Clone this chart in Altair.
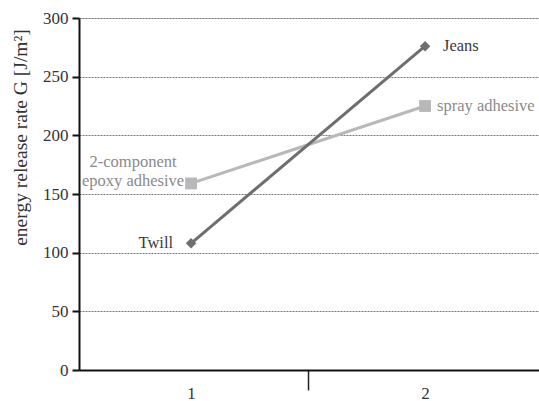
import altair as alt
import pandas as pd

# data
positions = [1, 2]
fabric_names = ["Twill", "Jeans"]
fabric_values = [108, 276]
adhesive_names = ["2-component epoxy adhesive", "spray adhesive"]
adhesive_values = [159, 225]
y_ticks = [0, 50, 100, 150, 200, 250, 300]
x_labels = ["1", "2"]

fabric = pd.DataFrame({"x": positions, "y": fabric_values, "name": fabric_names})
adhesive = pd.DataFrame({"x": positions, "y": adhesive_values, "name": adhesive_names})

xscale = alt.Scale(domain=[0.521, 2.487], nice=False, zero=False)
yscale = alt.Scale(domain=[0, 300], nice=False)

SERIF = "Liberation Serif"

xaxis = alt.Axis(
    values=[1, 1.5, 2],
    labelExpr="datum.value == 1.5 ? '' : datum.value == 1 ? '1' : '2'",
    tickColor={"expr": "datum.value == 1.5 ? '#222' : 'transparent'"},
    tickSize=20, tickWidth=1.5, labelPadding=-5,
    domainColor="#111", domainWidth=2,
    labelFont=SERIF, labelFontSize=17, labelColor="#333",
    grid=False, title=None, labelAngle=0,
)
yaxis = alt.Axis(
    values=y_ticks, tickSize=7, tickWidth=2, tickColor="#111",
    domainColor="#111", domainWidth=2,
    labelFont=SERIF, labelFontSize=17, labelColor="#333", labelPadding=4,
    grid=True, gridColor="#777", gridDash=[2, 1], gridWidth=1,
    title="energy release rate G [J/m²]",
    titleFont=SERIF, titleFontSize=19.5, titleFontWeight="normal", titleColor="#333",
    titleX=-59, titleY=119, titleAngle=-90, titleAlign="center", titleBaseline="middle",
)

X = alt.X("x:Q", scale=xscale)
Y = alt.Y("y:Q", scale=yscale)

adh_line = alt.Chart(adhesive).mark_line(color="#b8b8b8", strokeWidth=3).encode(
    x=alt.X("x:Q", scale=xscale, axis=xaxis), y=alt.Y("y:Q", scale=yscale, axis=yaxis))
adh_pts = alt.Chart(adhesive).mark_point(shape="square", filled=True, opacity=1, size=140, color="#b8b8b8").encode(x=X, y=Y)
fab_line = alt.Chart(fabric).mark_line(color="#6e6e6e", strokeWidth=3).encode(x=X, y=Y)
fab_pts = alt.Chart(fabric).mark_point(shape="diamond", filled=True, opacity=1, size=110, color="#6e6e6e").encode(x=X, y=Y)

def lbl(df, idx, **kw):
    d = df.iloc[[idx]]
    return alt.Chart(d).mark_text(font=SERIF, fontSize=16.5, **kw).encode(x=X, y=Y, text="name:N")

twill = lbl(fabric, 0, align="right", dx=-18, color="#3a3a3a")
jeans = lbl(fabric, 1, align="left", dx=18, color="#3a3a3a")
spray = lbl(adhesive, 1, align="left", dx=12, color="#8a8a8a")
epoxy = alt.Chart(adhesive.iloc[[0]]).mark_text(
    font=SERIF, fontSize=16.5, color="#8a8a8a", align="center", dx=-58, dy=-21, lineHeight=19
).encode(x=X, y=Y, text=alt.value(["2-component", "epoxy adhesive"]))

chart = alt.layer(adh_line, adh_pts, fab_line, fab_pts, twill, jeans, spray, epoxy).properties(
    width=460, height=352,
    autosize=alt.AutoSizeParams(type="none"),
    padding={"left": 79, "top": 18, "right": 0, "bottom": 31},
).configure_view(stroke=None).configure(background="white")

chart.save("out.html", embed_options={"renderer": "svg", "actions": False})
